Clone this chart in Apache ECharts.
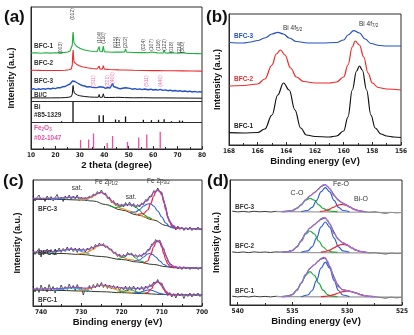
<!DOCTYPE html>
<html><head><meta charset="utf-8">
<script src="https://cdn.jsdelivr.net/npm/echarts@6/dist/echarts.min.js"></script>
<style>html,body{margin:0;padding:0;background:#fff}#c{width:414px;height:335px}</style>
</head><body><div id="c"></div>
<script>
// ================= Panel (a) XRD (2theta, intensity a.u.) =================
const aBFC1 = [[10,96],[12,96.3],[14,95.8],[16,96.2],[18,95.9],[20,96.3],[21.5,96.1],[22.3,97.2],[22.7,96.4],[24,96.6],[25,97],[26,98],[26.6,99.5],[26.9,104],[27.1,114],[27.25,117],[27.4,112],[27.6,106],[28,104],[28.5,103],[29,102],[30,100.8],[31,99.8],[32,99],[33,98.5],[34,98],[35,97.8],[36,97.5],[37,97.3],[37.6,97.8],[37.9,102.5],[38.2,97.8],[39.2,97.4],[39.6,103],[40,97.4],[41,97],[42,97],[43,96.8],[44.2,96.9],[44.6,98],[45,97],[45.7,97],[46,98],[46.4,96.9],[47,96.9],[48.3,97],[48.7,100],[49.1,96.9],[50,96.8],[52,96.5],[54,96.4],[55.5,96.4],[56,97.6],[56.5,96.5],[58,96.2],[59.3,97],[60,96.2],[61.8,96.1],[62.2,97.5],[62.6,96.1],[64.1,96],[64.5,98.8],[64.9,96],[66,95.9],[67.5,96.3],[68,95.8],[70.5,95.7],[70.8,96.6],[71.2,95.7],[72,96.2],[72.4,95.6],[74,95.6],[76,95.5],[78,95.4],[80,95.3]];
const aBFC2 = [[10,78.8],[14,78.6],[18,78.5],[22,78.5],[24,78.8],[25.5,79.3],[26.5,80],[26.9,84],[27.1,95],[27.25,99],[27.4,93],[27.6,87],[28,85.5],[28.6,84.8],[29.5,83.6],[31,82.3],[33,81.2],[35,80.5],[37,80],[37.6,80.2],[37.9,82.8],[38.2,80],[39.2,79.9],[39.6,83.3],[40,79.9],[42,79.5],[44,79.3],[46,79.1],[48.3,79],[48.7,80.5],[49.1,78.9],[52,78.7],[56,78.5],[60,78.4],[62,78.5],[64.1,78.3],[64.5,79.7],[64.9,78.3],[68,78.2],[72,78.1],[76,78],[80,77.9]];
const aBFC3 = [[10,59.5],[11,60.3],[12,59.4],[13,60.2],[14,59.6],[15,60.4],[16,59.8],[17,60.6],[18,60],[19,60.9],[20,60.4],[21,61.3],[22,61.2],[23,62.3],[24,62.5],[25,63.8],[26,65],[26.6,66.5],[27,68],[27.3,69.5],[27.6,67.6],[28,67.5],[28.5,66.8],[29,66],[30,64.6],[31,63.5],[32,63],[33,62],[34,62.3],[35,61.6],[35.6,62.4],[36,61.4],[37,61.4],[37.9,62.2],[38.5,60.9],[39.6,61.8],[40.5,60.7],[41.4,61.5],[42.3,60.8],[43,62.3],[43.4,65.5],[43.8,62.5],[44.5,60.8],[45.5,61],[46.5,60.2],[47.5,60.8],[48.7,61.3],[49.5,60.2],[50.5,60.6],[51.5,59.8],[52.5,60.4],[53.5,59.6],[54.5,60.1],[55.5,59.3],[56.5,60],[57.3,60.6],[58,59.3],[59,59.8],[60,59],[61,59.5],[62,58.9],[62.9,59.7],[64,58.6],[65,59.1],[66,58.3],[67,58.8],[68,58],[69,58.5],[70,57.8],[71,58.3],[72,57.5],[73,58],[74,57.3],[75,57.8],[76,57],[77,57.6],[78,56.9],[79,57.4],[80,56.8]];
const aBiC = [[10,51.2],[14,51.1],[18,51.1],[22,51.2],[24,51.4],[25.5,51.8],[26.5,52.5],[26.9,55],[27.1,61],[27.25,63.5],[27.4,59.5],[27.7,56],[28.2,55],[29,54],[30,53.2],[32,52.5],[34,52],[36,51.8],[37.6,51.8],[37.9,54.5],[38.2,51.7],[39.2,51.7],[39.6,55.2],[40,51.6],[42,51.5],[44.6,51.6],[45,51.4],[46,51.7],[46.4,51.4],[48.3,51.4],[48.7,52.5],[49.1,51.3],[52,51.2],[56,51.3],[60,51.1],[64.1,51.1],[64.5,51.8],[64.9,51],[70,51],[75,50.9],[80,50.8]];
const aBiRefPos = [22.5, 27.2, 37.9, 39.6, 44.6, 46.0, 48.7, 56.0, 59.3, 62.2, 64.5, 67.5, 70.8, 72.0];
const aBiRefTop = [27.8, 48, 33.8, 33.8, 29.5, 29, 32.5, 29.2, 28.8, 29.2, 29.8, 27.8, 28.5, 28.3];
const aFeRefPos = [30.3, 33.6, 35.6, 41.2, 43.4, 49.5, 54.1, 57.4, 62.9];
const aFeRefTop = [9, 9.5, 15.5, 6, 13, 7, 11.5, 14.5, 17.3];
const aMillerPos = [22.3, 27.2, 37.9, 39.6, 44.6, 46.0, 48.7, 56.0, 59.3, 62.2, 64.5, 67.5, 70.8, 72.0];
const aMillerY   = [101, 135, 111.5, 111, 106.5, 106.5, 106.5, 104, 104, 104, 104, 101.5, 101.5, 101.5];
const aMillerTxt = ['(003)','(012)','(104)','(110)','(015)','(113)','(202)','(024)','(107)','(116)','(122)','(018)','(214)','(300)'];
const aFeHklPos = [35.6, 41.3, 43.4, 57.3, 62.9];
const aFeHklY   = [68, 68, 71, 68, 68];
const aFeHklTxt = ['(311)','(321)','(400)','(511)','(440)'];

// ================= Panel (b) Bi 4f XPS =================
const bBFC1 = [[168,12.3],[167,12],[166,12.5],[165.5,16],[165,30],[164.6,50],[164.2,62],[163.8,55],[163.4,35],[163,17],[162.6,10],[162,8.5],[161,8],[160.5,9],[160,14],[159.7,28],[159.4,55],[159.1,74],[158.9,79],[158.7,75],[158.4,55],[158.1,30],[157.8,17],[157.4,11],[157,9],[156.5,8],[156,7.5]];
const bBFC2 = [[168,59],[167,59.5],[166,61],[165.5,66],[165,80],[164.7,91],[164.4,95],[164.1,90],[163.7,77],[163.3,68],[162.8,63.5],[162,62],[161,62],[160.5,63],[160,68],[159.7,80],[159.4,98],[159.2,104],[158.9,100],[158.6,88],[158.3,72],[158,62],[157.6,57.5],[157,56],[156,55]];
const bBFC3 = [[168,102.5],[167,102],[166.5,103],[166,104.5],[165.5,107],[165,111],[164.6,112.7],[164.2,111],[163.8,107],[163.3,103.5],[162.5,102],[161.5,102],[160.5,102.5],[160,105],[159.7,110],[159.3,114.3],[158.9,112],[158.5,106],[158.1,101.5],[157.5,99.5],[157,99],[156,99]];

// ================= Panel (c) Fe 2p XPS =================
const cX = [742,741.5,741,740.5,740,739.5,739,738.5,738,737.5,737,736.5,736,735.5,735,734.5,734,733.5,733,732.5,732,731.5,731,730.5,730,729.5,729,728.5,728,727.5,727,726.5,726,725.5,725,724.5,724,723.5,723,722.5,722,721.5,721,720.5,720,719.5,719,718.5,718,717.5,717,716.5,716,715.5,715,714.5,714,713.5,713,712.5,712,711.5,711,710.5,710,709.5,709,708.5,708,707.5,707,706.5,706,705.5,705,704.5,704,703.5,703,702.5,702,701.5,701,700.5,700];
const c3Raw = [109.5,105,108.5,111,106,108,104.5,110,107,109.5,105,108.5,111.5,106,109,104.5,110,107.5,111,106.5,110,107,111,105.5,109,106,108.5,106.5,110,108,112,110.5,114.5,112,116,112,113,107.5,109,103.5,105.5,100.5,103,98.5,102,99,103.5,100,104,99.5,102.5,98,101.5,99,103,101.5,106.5,105,110,109.5,115.5,113.5,118,114,114,104,99.5,88,85.5,79.5,81,76,80,76.5,79,75.5,78.5,76,79,75.5,78,76,79,76,77.5];
const c2Raw = [56,51.5,55,57.5,49,55.5,52,57,53,56.5,51.5,57,54,58,53.5,57.5,54.5,59,55,58.5,54.5,58,53.5,58,55,57.5,54,58,55.5,59.5,57,61.5,59,63,60,62.5,58.5,60,56,57,52.5,54,49.5,52,48,51.5,49,53.5,51,53,49.5,51.5,48.5,51.5,49.5,53,52,56.5,56,62,62,66.5,64,66,60,57.5,50,46.5,41.5,41.5,38,40,37,39.5,36.5,39.5,37,39,36.5,39,37,39,36.5,38.5,37.5];
const c1Raw = [20,14,18.5,13.5,21,15.5,19,14,21.5,16,19.5,13,18.5,15.5,21,16,19.5,16.5,22,17,20.5,15.5,21.5,16.5,19,11,17.5,14.5,20.5,16.5,21.5,18,22.5,19,23.5,18.5,22,17.5,21,17,20.5,16.5,20,15.5,19,16,20,15,19.5,16,20,15.5,19,16,19.5,15.5,20,17.5,21.5,19.5,24,22.5,26.5,22,23,17.5,15.5,10.5,13.5,9,12.5,8,13,10,12.5,7.5,12,9.5,13,9,12.5,10,13,9.5,12];
const c3Base = [[742,106.7],[735,106.5],[730,106],[727,105],[724,101.5],[720,96],[716,91],[712,86],[709,80.5],[707,78],[704,77.3],[700,77]];
const c3Cyan = [[737.5,106.6],[735.5,107.3],[734,108],[732.5,108.6],[731,108.2],[729.5,107],[728,105.6]];
const c3Orange = [[731,106.3],[729,106.5],[727.5,108.5],[726.5,111],[725.5,113.2],[725,113.5],[724.3,112.3],[723.5,109],[722.5,104.5],[721.5,101],[720,97.5],[718,95],[716,91.8],[714,88.8],[712,86.2]];
const c3Green = [[723,100.2],[721.5,98.5],[720.5,99],[719.5,100.5],[718.5,101.5],[717.5,101],[716.5,99],[715.5,95.5],[714.5,91.5],[713.5,89],[712.5,87.3]];
const c3Blue = [[718,93.7],[716.5,94],[715.5,96.5],[714.5,100],[713.5,102],[712.8,102.2],[712,100],[711,95],[710,89],[709,83],[708,79.2],[707,78]];
const c3Red = [[716,91.5],[714.5,92.5],[713.5,96],[712.7,103],[712,110],[711.4,115],[711,116],[710.5,114.5],[710,111],[709.5,104],[709,96],[708.5,88.5],[708,83.5],[707.5,80],[706.5,77.8],[705,77.5]];
const c3Env = [[742,107.7],[737,107.7],[735,108.1],[733,108.7],[732,108.8],[731,108.5],[730,108],[729,107.8],[728,108.6],[727,110.6],[726,112.7],[725,113.7],[724,111.3],[723,107.3],[722,103.7],[721,101.2],[720,100.5],[719,101.3],[718,101.7],[717,100.5],[716,100],[715,101.5],[714,104.7],[713,108.6],[712,113.5],[711,116],[710,112.7],[709.5,106],[709,97.7],[708.5,90],[708,84.3],[707,79.3],[706,78],[705,77.7],[700,77]];
const c2Base = [[742,53.3],[735,52.5],[730,51.5],[725,49.5],[720,46.5],[716,44],[712,41.5],[709,39.3],[707,38.3],[700,37.7]];
const c2Cyan = [[738,53.5],[736,54.5],[734,56],[732.5,56.6],[731,56],[729.5,54],[728,52]];
const c2Orange = [[731,51.7],[729,53],[727,56.5],[726,59.5],[725,61],[724,60],[723,57],[722,53.5],[720,49],[718,46.5],[716,44.5]];
const c2Green = [[721,47],[719.5,48.5],[718.5,51.5],[718,52],[717.3,51],[716.5,48],[715.5,45],[714,43]];
const c2Blue = [[717,44.5],[715.5,46],[714.5,49],[713.5,52],[713,52.5],[712.3,51.5],[711.5,49],[710.5,45],[709.5,41.5],[708.5,39.5],[707,38.5]];
const c2Red = [[714.5,42.5],[713.5,45],[712.8,51],[712,59],[711.4,64],[711,65],[710.5,63.5],[710,59],[709.5,52],[709,46],[708.5,42],[708,40],[707,38.5],[705,38]];
const c2Env = [[742,54],[738,54.4],[735,55.6],[733,56.8],[731,56.3],[729,56],[727,58.5],[726,60.3],[725,61.2],[724,60],[723,57.5],[722,54],[721,51],[720,49.8],[719,50.5],[718.3,52],[717.5,51.5],[716.5,50],[715.5,50],[714.5,51.5],[713.5,55],[712.5,60],[711.8,64],[711,65.2],[710.3,63.5],[709.7,58],[709,51],[708.3,44],[707.5,40.5],[706.5,38.8],[705,38.3],[700,37.8]];
const c1Base = [[742,16],[735,15.5],[730,15],[725,14.3],[720,13.3],[715,12.5],[710,11.6],[707,11.2],[700,11]];
const c1Cyan = [[737,15.8],[735,16.5],[733.5,17.6],[732.5,18],[731,17.4],[729.5,16],[728,15.1]];
const c1Orange = [[731,15],[729,16.3],[727,18.8],[725.5,20.5],[725,20.7],[724,20],[722.5,18],[721,16],[719,14.2],[717,13.2]];
const c1Green = [[721,13.8],[719.5,14.8],[718.5,16],[718,16.2],[717.3,15.8],[716.5,14.5],[715.5,13.2],[714,12.5]];
const c1Blue = [[717,13],[715.5,13.6],[714.5,14.8],[713.5,16],[713,16.2],[712.3,15.5],[711.5,14.2],[710.5,12.6],[709.5,11.8],[708.5,11.4]];
const c1Red = [[714.5,12.3],[713.5,13.5],[712.6,17],[711.9,21.5],[711.3,24],[711,24.1],[710.5,23],[710,20],[709.5,16.5],[709,13.5],[708.5,12],[707.5,11.3],[706,11.1]];
const c1Env = [[742,17],[738,17.2],[735,17.5],[733,18.5],[731,18.6],[729,17.8],[727,19],[725,21],[723,20],[721,18.5],[719,17.8],[717.5,17.8],[716,17.5],[714.5,17.8],[713,19.5],[712,22.5],[711.2,24.3],[710.5,23.5],[709.7,19.5],[709,15],[708.2,12.3],[707,11.3],[705,11],[700,11]];

// ================= Panel (d) O 1s XPS =================
const dX = [540.5,540,539.5,539,538.5,538,537.5,537,536.5,536,535.5,535,534.5,534,533.5,533,532.5,532,531.5,531,530.5,530,529.5,529,528.5,528,527.5,527,526.5,526,525.5,525];
const d3Raw = [93.8,93.1,93.6,93.0,93.7,93.2,93.5,93.0,93.6,93.4,93.8,94.6,97.5,102.5,108.3,112.5,117.5,120.6,115,107,102.5,99.8,96.3,94.5,93.3,92.7,93.1,92.4,91.8,92.6,92.2,92.5];
const d2Raw = [53.1,52.5,53,52.4,53.1,52.6,53,52.5,53.1,52.8,53.3,54.7,59.5,68,76,80.5,85,87.2,79.5,68.3,62.5,60.3,56.5,54,52.8,52.1,52.4,51.7,51,51.9,51.5,51.8];
const d1Raw = [8.8,8.1,8.7,8.0,8.8,8.2,8.6,8.1,8.7,8.4,8.9,10.6,16.5,25.5,35.5,40.2,45.5,47.2,36,22.5,15.5,14.5,13,11.3,9.5,8.6,8.3,7.6,6.9,7.8,7.2,7.7];
const d3Base = [[536.5,93.3],[525,92.5]];
const d2Base = [[536.5,52.7],[525,51.8]];
const d1Base = [[536.5,8.3],[525,7.8]];
const d3Green = [[535.9,93.3],[535.4,93.6],[535,94.4],[534.6,96.6],[534.2,100.1],[533.8,104.8],[533.4,106.7],[533,104.8],[532.6,100.1],[532.2,96.6],[531.8,94.4],[531.4,93.6],[530.9,93.3]];
const d3Blue = [[534.2,93.3],[533.6,94.5],[533.2,97.6],[532.8,104.6],[532.4,113.2],[532,117.3],[531.6,113.2],[531.2,104.6],[530.8,97.6],[530.4,94.5],[529.8,93.3]];
const d3Red = [[532.5,93.5],[532.1,94],[531.7,95.4],[531.3,97.5],[530.9,99.7],[530.5,100.7],[530.1,99.7],[529.7,97.5],[529.3,95.4],[528.9,94],[528.5,93.5]];
const d3Env = [[536,93.3],[535.4,93.6],[535,94.4],[534.6,96.6],[534.2,100.1],[533.8,105.3],[533.4,109.1],[533,112.2],[532.6,115.9],[532.4,118.6],[532.2,120.1],[532,120.3],[531.8,118.8],[531.6,116.2],[531.2,109.5],[530.8,104.4],[530.5,102.4],[530.2,100.6],[529.8,98.2],[529.4,95.8],[529,94.3],[528.5,93.5]];
const d2Green = [[535.9,52.7],[535.4,53.2],[535,54.5],[534.6,58],[534.2,64],[533.8,71],[533.4,74],[533,71],[532.6,64],[532.2,58],[531.8,54.5],[531.4,53.2],[530.9,52.7]];
const d2Blue = [[534.2,52.7],[533.6,54.2],[533.2,58.2],[532.8,66.9],[532.4,77.9],[532,83],[531.6,77.9],[531.2,66.9],[530.8,58.2],[530.4,54.2],[529.8,52.7]];
const d2Red = [[532.4,52.8],[532,53.5],[531.6,54.9],[531.2,57.2],[530.8,59.7],[530.4,60.7],[530,59.7],[529.6,57.2],[529.2,54.9],[528.8,53.5],[528.4,52.8]];
const d2Env = [[536,52.7],[535.4,53.2],[535,54.5],[534.6,58],[534.2,64],[533.8,71.7],[533.4,77],[533,80.3],[532.6,83.8],[532.4,86.2],[532.2,87.4],[532,87],[531.8,84.8],[531.6,81],[531.2,71.6],[530.8,65.2],[530.4,62.2],[530,60],[529.6,57.2],[529.2,54.9],[528.8,53.5],[528.2,52.8]];
const d1Green = [[535.9,8.3],[535.4,8.8],[535,10.4],[534.6,14.8],[534.2,21.8],[533.8,29.7],[533.4,33.3],[533,29.7],[532.6,21.8],[532.2,14.8],[531.8,10.4],[531.4,8.8],[530.9,8.3]];
const d1Blue = [[534.2,8.3],[533.6,10],[533.2,14.5],[532.8,24.5],[532.4,36.9],[532,42.8],[531.6,36.9],[531.2,24.5],[530.8,14.5],[530.4,10],[529.8,8.4]];
const d1Red = [[532.4,8.4],[532,8.7],[531.6,9.3],[531.2,10.4],[530.8,12],[530.4,13.4],[530,14],[529.6,13.4],[529.2,12],[528.8,10.4],[528.4,9.3],[528,8.7],[527.6,8.4]];
const d1Env = [[536,8.3],[535.4,8.8],[535,10.4],[534.6,14.8],[534.2,21.8],[533.8,30.5],[533.4,36.7],[533,40.4],[532.6,44.2],[532.4,46.5],[532.2,47.6],[532,47],[531.8,43.8],[531.6,38.9],[531.2,26.8],[530.8,18.2],[530.4,15.1],[530,14.3],[529.6,13.4],[529.2,12],[528.8,10.4],[528.4,9.3],[528,8.7],[527.4,8.3]];

// ================= chart construction =================
const FF = '"Liberation Sans", Arial, Helvetica, sans-serif';
const FN = '"Liberation Sans Narrow", "Arial Narrow", "DejaVu Sans Condensed", "Liberation Sans", sans-serif';
const AX = '#2a2a2a';

function xAx(gi, min, max, interval, inverse, name, nameGap) {
  return {
    gridIndex: gi, type: 'value', min, max, interval, inverse,
    name, nameLocation: 'middle', nameGap,
    nameTextStyle: {fontSize: 9.5, fontWeight: 'bold', fontFamily: FF, color: '#111'},
    axisLine: {show: true, lineStyle: {color: AX, width: 1}},
    axisTick: {show: true, inside: true, length: 3, lineStyle: {color: AX, width: 1}},
    minorTick: {show: true, splitNumber: 2, length: 2, lineStyle: {color: AX, width: 1}},
    axisLabel: {margin: 3, fontSize: 6.5, fontWeight: 'bold', fontFamily: FN, color: '#222',
      formatter: v => (Math.abs(v / interval - Math.round(v / interval)) < 1e-6 ? String(v) : '')},
    splitLine: {show: false}
  };
}
function yAx(gi, max, gap) {
  return {
    gridIndex: gi, type: 'value', min: 0, max,
    name: 'Intensity (a.u.)', nameLocation: 'middle', nameGap: gap, nameRotate: 90,
    nameTextStyle: {fontSize: 9, fontWeight: 'bold', fontFamily: FF, color: '#111'},
    axisLine: {show: true, lineStyle: {color: AX, width: 1}},
    axisTick: {show: false}, axisLabel: {show: false}, splitLine: {show: false}
  };
}
function ln(gi, data, color, width, smooth, z) {
  return {type: 'line', xAxisIndex: gi, yAxisIndex: gi, data, symbol: 'none', showSymbol: false,
    smooth: smooth ? 0.4 : false, smoothMonotone: 'x', silent: true, animation: false,
    lineStyle: {color, width}, z: z || 2};
}
function zip(xs, ys) { return xs.map((x, i) => [x, ys[i]]); }
function refBars(pos, top, base, color) {
  return {type: 'custom', xAxisIndex: 0, yAxisIndex: 0, silent: true, animation: false,
    data: pos.map((p, i) => [p, base, top[i]]),
    renderItem: (params, api) => {
      const a = api.coord([api.value(0), api.value(1)]);
      const b = api.coord([api.value(0), api.value(2)]);
      return {type: 'line', shape: {x1: a[0], y1: a[1], x2: b[0], y2: b[1]}, style: {stroke: color, lineWidth: 1.3}};
    }};
}
function hklLabels(pos, ys, txt, color) {
  return {type: 'scatter', xAxisIndex: 0, yAxisIndex: 0, silent: true, animation: false,
    symbolSize: 0, data: pos.map((p, i) => ({value: [p, ys[i]], name: txt[i]})),
    label: {show: true, position: 'inside', rotate: 90, formatter: p => p.name,
      fontSize: 5, fontFamily: FF, color}, z: 5};
}

const GREEN = '#1fb040', RED = '#ee2a2a', BLUE = '#2451c4', PINK = '#ec4f9f';
const cOr = '#f08a1f', cCy = '#35aee0', cGr = '#1ea84a', cBl = '#2f5fd6', cRd = '#ee1f3b', cPu = '#9050c8', cBase = '#2f3a22';
const dGr = '#1fae3d', dBl = '#2c5fd8', dRd = '#ee2233', dPu = '#a070d8', dBase = '#9a9a9a';

const series = [];
// (a)
series.push(ln(0, aBFC1, GREEN, 1.1));
series.push(ln(0, aBFC2, RED, 1.1));
series.push(ln(0, aBFC3, BLUE, 1.4));
const biC = ln(0, aBiC, '#111', 1);
biC.markLine = {silent: true, symbol: 'none', animation: false, label: {show: false},
  lineStyle: {color: AX, width: 1, type: 'solid'}, data: [{yAxis: 48}, {yAxis: 27}]};
series.push(biC);
series.push(refBars(aBiRefPos, aBiRefTop, 27, '#111'));
series.push(refBars(aFeRefPos, aFeRefTop, 0, PINK));
series.push(hklLabels(aMillerPos, aMillerY, aMillerTxt, '#111'));
series.push(hklLabels(aFeHklPos, aFeHklY, aFeHklTxt, PINK));
// (b)
series.push(ln(1, bBFC1, '#111', 1.2, true));
series.push(ln(1, bBFC2, RED, 1.2, true));
series.push(ln(1, bBFC3, BLUE, 1.2, true));
// (c)
[[c3Raw, c3Base, c3Cyan, c3Orange, c3Green, c3Blue, c3Red, c3Env],
 [c2Raw, c2Base, c2Cyan, c2Orange, c2Green, c2Blue, c2Red, c2Env],
 [c1Raw, c1Base, c1Cyan, c1Orange, c1Green, c1Blue, c1Red, c1Env]].forEach(g => {
  series.push(ln(2, zip(cX, g[0]), '#111', 0.7, false, 1));
  series.push(ln(2, g[1], cBase, 1, true, 2));
  series.push(ln(2, g[2], cCy, 1.1, true, 3));
  series.push(ln(2, g[3], cOr, 1.1, true, 3));
  series.push(ln(2, g[4], cGr, 1.1, true, 3));
  series.push(ln(2, g[5], cBl, 1.1, true, 3));
  series.push(ln(2, g[6], cRd, 1.2, true, 3));
  series.push(ln(2, g[7], cPu, 1.2, true, 4));
});
// (d)
[[d3Raw, d3Base, d3Green, d3Blue, d3Red, d3Env],
 [d2Raw, d2Base, d2Green, d2Blue, d2Red, d2Env],
 [d1Raw, d1Base, d1Green, d1Blue, d1Red, d1Env]].forEach(g => {
  series.push(ln(3, zip(dX, g[0]), '#222', 0.9, false, 1));
  series.push(ln(3, g[1], dBase, 1.2, false, 2));
  series.push(ln(3, g[2], dGr, 1.2, true, 3));
  series.push(ln(3, g[3], dBl, 1.2, true, 3));
  series.push(ln(3, g[4], dRd, 1.2, true, 3));
  series.push(ln(3, g[5], dPu, 1.4, true, 4));
});

function txt(x, y, text, opt) {
  opt = opt || {};
  return {type: 'text', x, y, silent: true, z: 100,
    style: Object.assign({text, fill: opt.fill || '#333', font: opt.font || ('bold 6.5px ' + FF),
      align: opt.align || 'left', verticalAlign: 'middle'}, opt.style || {})};
}
const sub = {n: {fontSize: 6.5, fontFamily: FF, fill: '#333'}, s: {fontSize: 4.5, fontFamily: FF, fill: '#333', padding: [4, 0, 0, 0]}};
const graphic = [
  txt(4, 17, '(a)', {font: 'bold 17px ' + FF, fill: '#111'}),
  txt(206, 17, '(b)', {font: 'bold 17px ' + FF, fill: '#111'}),
  txt(3, 181, '(c)', {font: 'bold 17px ' + FF, fill: '#111'}),
  txt(207, 181, '(d)', {font: 'bold 17px ' + FF, fill: '#111'}),
  // (a)
  txt(34, 46, 'BFC-1'), txt(34, 63, 'BFC-2'), txt(34, 81, 'BFC-3'), txt(34, 95, 'Bi/C'),
  txt(34, 107, 'Bi'), txt(34, 115, '#85-1329'),
  {type: 'text', x: 34, y: 128, silent: true, z: 100, style: {text: '{n|Fe}{s|2}{n|O}{s|3}', verticalAlign: 'middle',
    rich: {n: {fontSize: 6.5, fontWeight: 'bold', fontFamily: FF, fill: PINK}, s: {fontSize: 4.5, fontWeight: 'bold', fontFamily: FF, fill: PINK, padding: [4, 0, 0, 0]}}}},
  txt(34, 138, '#02-1047', {fill: PINK}),
  // (b)
  txt(234, 36, 'BFC-3', {fill: BLUE}), txt(234, 79, 'BFC-2', {fill: RED}), txt(234, 126, 'BFC-1', {fill: '#222'}),
  {type: 'text', x: 283, y: 28, silent: true, z: 100, style: {text: '{n|Bi 4f}{s|5/2}', verticalAlign: 'middle', rich: sub}},
  {type: 'text', x: 359, y: 24, silent: true, z: 100, style: {text: '{n|Bi 4f}{s|7/2}', verticalAlign: 'middle', rich: sub}},
  // (c)
  txt(77, 188, 'sat.', {font: '6.5px ' + FF, align: 'center'}),
  {type: 'text', x: 95, y: 182, silent: true, z: 100, style: {text: '{n|Fe 2p}{s|1/2}', verticalAlign: 'middle', rich: sub}},
  txt(131, 197, 'sat.', {font: '6.5px ' + FF, align: 'center'}),
  {type: 'text', x: 147, y: 181, silent: true, z: 100, style: {text: '{n|Fe 2p}{s|3/2}', verticalAlign: 'middle', rich: sub}},
  txt(38, 209, 'BFC-3'), txt(38, 253, 'BFC-2'), txt(38, 300, 'BFC-1'),
  // (d)
  txt(297, 193, 'C-O', {font: '7px ' + FF, align: 'center'}),
  txt(341, 184, 'Fe-O', {font: '7px ' + FF, align: 'center'}),
  txt(361, 199, 'Bi-O', {font: '7px ' + FF, align: 'center'}),
  txt(235, 207, 'BFC-3'), txt(235, 246, 'BFC-2'), txt(235, 291, 'BFC-1')
];

const gridBase = {show: true, borderColor: AX, borderWidth: 1, backgroundColor: 'transparent', containLabel: false};
const option = {
  animation: false,
  backgroundColor: '#ffffff',
  grid: [
    Object.assign({left: 31, top: 7, width: 171, height: 142}, gridBase),
    Object.assign({left: 229, top: 14, width: 172, height: 131}, gridBase),
    Object.assign({left: 33, top: 180, width: 169, height: 126}, gridBase),
    Object.assign({left: 230, top: 180, width: 172, height: 125}, gridBase)
  ],
  xAxis: [
    xAx(0, 10, 80, 10, false, '2 theta (degree)', 8),
    xAx(1, 156, 168, 2, true, 'Binding energy (eV)', 10),
    xAx(2, 700, 742, 10, true, 'Binding energy (eV)', 10),
    xAx(3, 525, 540.7, 5, true, 'Binding energy (eV)', 10)
  ],
  yAxis: [yAx(0, 142, 14.5), yAx(1, 131, 6.5), yAx(2, 126, 10.5), yAx(3, 125, 8.5)],
  series,
  graphic
};
const chart = echarts.init(document.getElementById('c'), null, {renderer: 'canvas', width: 414, height: 335});
chart.setOption(option);
</script>
</body></html>
